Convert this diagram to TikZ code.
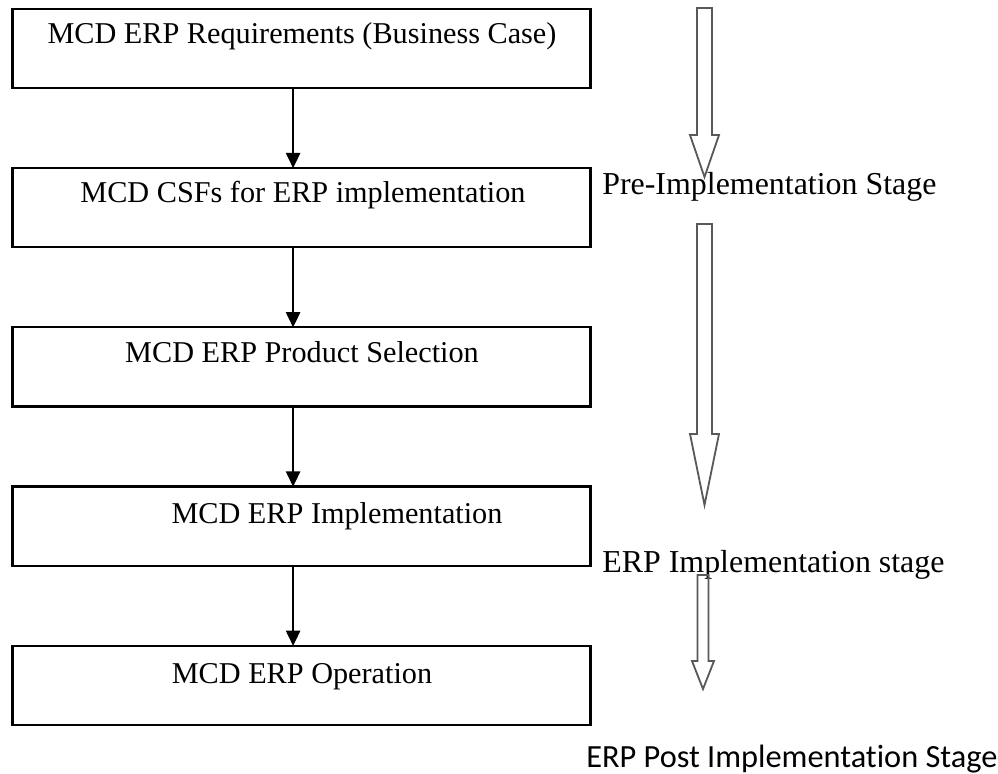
\documentclass[tikz,border=0pt]{standalone}
\usepackage{fontspec}
\setmainfont{Liberation Serif}
\newfontfamily\stagesans[Ligatures=NoCommon]{Carlito}
\usetikzlibrary{arrows.meta, positioning, calc}
\tikzset{
   stagebox/.style={draw, line width=1.6pt, minimum width=14.45cm, minimum height=1.98cm, inner sep=0pt, outer sep=0pt},
   boxtext/.style={font=\fontsize{21.5}{25}\selectfont, inner sep=0pt, anchor=base},
   stagetext/.style={font=\fontsize{22.7}{26}\selectfont, inner sep=0pt, anchor=base west},
   flow/.style={-{Triangle[length=3.8mm,width=3.6mm]}, line width=0.9pt},
   bigarrow/.style={draw=black!65, line width=1.3pt, line join=miter}
}

\begin{document}
\begin{tikzpicture}[x=0.025cm, y=-0.025cm]
  \useasboundingbox (0,0) rectangle (998,774);
  % process boxes
  \node[stagebox] (req) at (301.5,48.5) {};
  \node[stagebox, below=2cm of req] (csf) {};
  \node[stagebox, below=2cm of csf] (sel) {};
  \node[stagebox, below=2cm of sel] (impl) {};
  \node[stagebox, below=2cm of impl] (oper) {};

  \node[boxtext] (reqtxt) at (302,44) {MCD ERP Requirements (Business Case)};
  \node[boxtext] (csftxt) at (303,203) {MCD CSFs for ERP implementation};
  \node[boxtext] (seltxt) at (302,362) {MCD ERP Product Selection};
  \node[boxtext] (impltxt) at (337,523) {MCD ERP Implementation};
  \node[boxtext] (opertxt) at (302,683) {MCD ERP Operation};

  \foreach \a/\b in {req/csf, csf/sel, sel/impl, impl/oper}
    \draw[flow] ([xshift=-2.1mm]\a.south) -- ([xshift=-2.1mm]\b.north);

  % stage labels
  \node[stagetext] (pre) at (602,195) {Pre-Implementation Stage};
  \node[stagetext] (erp) at (602,572) {ERP Implementation stage};
  \node[stagetext, font=\stagesans\fontsize{23}{27}\selectfont] (post) at (586,767) {ERP Post Implementation Stage};

  % block arrows
  \draw[bigarrow] (697,8) -- (712,8) -- (712,135) -- (719,135) -- (704.5,177)
     -- (690,135) -- (697,135) -- cycle;
  \draw[bigarrow] (697,224) -- (712,224) -- (712,434) -- (719,434) -- (704.5,505)
     -- (690,434) -- (697,434) -- cycle;
  \draw[bigarrow] (697.5,575) -- (708.5,575) -- (708.5,661) -- (714,661) -- (703,689)
     -- (692,661) -- (697.5,661) -- cycle;
\end{tikzpicture}
\end{document}
